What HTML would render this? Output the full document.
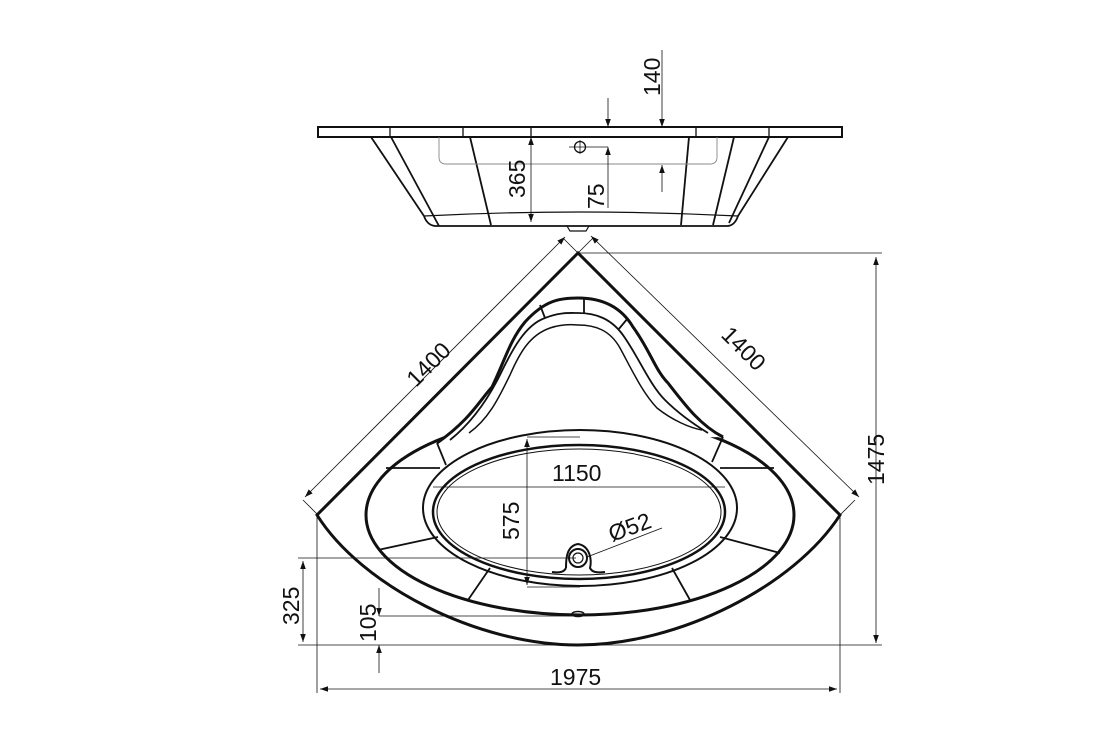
<!DOCTYPE html>
<html><head><meta charset="utf-8"><style>
html,body{margin:0;padding:0;background:#fff;}
svg{display:block}
text{font-family:"Liberation Sans",Arial,sans-serif;font-size:23px;fill:#111}
</style></head><body>
<svg width="1120" height="750" viewBox="0 0 1120 750" xmlns="http://www.w3.org/2000/svg">
<defs>
<marker id="a" viewBox="0 0 10 10" refX="10" refY="5" markerWidth="10" markerHeight="8" orient="auto-start-reverse" markerUnits="userSpaceOnUse"><path d="M0,1.5 L10,5 L0,8.5 Z" fill="#111"/></marker>
</defs>
<g fill="none" stroke="#111">
<rect x="318" y="127" width="524" height="10" stroke-width="2"/>
<g stroke-width="1.3">
<line x1="390" y1="127" x2="390" y2="137"/><line x1="463" y1="127" x2="463" y2="137"/>
<line x1="531" y1="127" x2="531" y2="137"/><line x1="696" y1="127" x2="696" y2="137"/>
<line x1="769" y1="127" x2="769" y2="137"/>
</g>
<g stroke-width="1.8">
<path d="M371,137 L424,216 Q427,225 435,226 L728,226 Q735,225 738,216 L788,137"/>
<line x1="391" y1="137" x2="439" y2="226"/>
<line x1="470" y1="137" x2="491" y2="225"/>
<line x1="689" y1="137" x2="681" y2="225"/>
<line x1="734" y1="137" x2="713" y2="225"/>
<line x1="769" y1="137" x2="729" y2="223"/>
<path d="M424,216 Q580,208 738,216" stroke-width="1.2"/>
<path d="M567,226 L570,231 L586,231 L589,226" stroke-width="1.2"/>
</g>
<path d="M439,137 L439,157 Q439,164 446,164 L710,164 Q717,164 717,157 L717,137" stroke="#888" stroke-width="0.9"/>
<circle cx="580" cy="147" r="5.5" stroke-width="1.3"/>
<g stroke-width="0.8">
<line x1="569" y1="147" x2="608" y2="147"/><line x1="580" y1="140" x2="580" y2="154"/>
<line x1="531" y1="137" x2="531" y2="222" marker-start="url(#a)" marker-end="url(#a)"/>
<line x1="608" y1="208" x2="608" y2="147" marker-end="url(#a)"/>
<line x1="608" y1="98" x2="608" y2="127" marker-end="url(#a)"/>
<line x1="662" y1="50" x2="662" y2="127" marker-end="url(#a)"/>
<line x1="662" y1="192" x2="662" y2="165" marker-end="url(#a)"/>
</g>
<path d="M578,253 L840,515 C795,585 680,645 578,645 C476,645 361,585 317,515 Z" stroke-width="3"/>
<ellipse cx="580" cy="515" rx="214" ry="100" stroke-width="3"/>
<path d="M437,443 C470,420 480,400 492,387 C505,360 510,340 525,322 C545,300 560,298 578,298 C600,298 620,305 633,327 C650,350 655,370 668,383 C685,405 700,425 723,437" stroke-width="3" fill="#fff"/>
<path d="M450,440 C475,420 490,395 500,375 C512,350 525,325 545,318 C560,312 570,313 578,313 C595,313 612,318 625,338 C640,360 650,385 665,400 C680,415 695,425 708,433" stroke-width="1.8"/>
<path d="M469,433 C490,418 500,395 510,375 C520,352 530,335 550,328 C565,323 575,325 578,325 C595,325 610,330 620,348 C632,370 642,392 657,408 C672,420 690,428 702,430" stroke-width="1.5"/>
<ellipse cx="580" cy="508" rx="157" ry="78" stroke-width="2"/>
<ellipse cx="579" cy="512" rx="146" ry="67" stroke-width="2.5"/>
<ellipse cx="579" cy="512" rx="142" ry="63" stroke-width="1"/>
<g stroke-width="1.8">
<line x1="386" y1="468" x2="440" y2="468"/><line x1="720" y1="468" x2="774" y2="468"/>
<line x1="378" y1="550" x2="438" y2="537"/><line x1="720" y1="537" x2="780" y2="553"/>
<line x1="468" y1="600" x2="490" y2="568"/><line x1="690" y1="600" x2="672" y2="568"/>
<line x1="584" y1="313" x2="584" y2="298"/><line x1="545" y1="318" x2="540" y2="305"/><line x1="618" y1="330" x2="628" y2="318"/>
<line x1="437" y1="443" x2="446" y2="465"/><line x1="723" y1="437" x2="712" y2="462"/>
</g>
<path d="M566,568 C566,560 566,546 578,544 C590,546 592,560 590,568 C592,572 596,573 605,572" stroke-width="2"/>
<path d="M566,568 C564,572 560,573 552,572" stroke-width="2"/>
<circle cx="578" cy="558" r="9" stroke-width="2"/>
<circle cx="578" cy="558" r="5" stroke-width="1.2"/>
<ellipse cx="578" cy="614" rx="6" ry="2.5" stroke-width="1.5"/>
<g stroke-width="0.8">
<line x1="579" y1="253" x2="882" y2="253"/>
<line x1="876" y1="257" x2="876" y2="643" marker-start="url(#a)" marker-end="url(#a)"/>
<line x1="578" y1="645" x2="882" y2="645"/>
<line x1="317" y1="515" x2="317" y2="693"/><line x1="840" y1="515" x2="840" y2="693"/>
<line x1="320" y1="689" x2="837" y2="689" marker-start="url(#a)" marker-end="url(#a)"/>
<line x1="298" y1="558" x2="576" y2="558"/>
<line x1="303" y1="561" x2="303" y2="642" marker-start="url(#a)" marker-end="url(#a)"/>
<line x1="298" y1="645" x2="578" y2="645"/>
<line x1="379" y1="588" x2="379" y2="616" marker-end="url(#a)"/>
<line x1="379" y1="616" x2="575" y2="616"/>
<line x1="379" y1="673" x2="379" y2="645" marker-end="url(#a)"/>
<line x1="433" y1="487" x2="725" y2="487"/>
<line x1="527" y1="439" x2="527" y2="585" marker-start="url(#a)" marker-end="url(#a)"/>
<line x1="527" y1="437" x2="580" y2="437"/><line x1="527" y1="587" x2="580" y2="587"/>
<line x1="587" y1="557" x2="662" y2="528"/>
<line x1="318" y1="515" x2="303" y2="500"/><line x1="578" y1="253" x2="563" y2="238"/>
<line x1="305" y1="497" x2="565" y2="237" marker-start="url(#a)" marker-end="url(#a)"/>
<line x1="578" y1="253" x2="593" y2="238"/><line x1="840" y1="515" x2="855" y2="500"/>
<line x1="591" y1="236" x2="859" y2="497" marker-start="url(#a)" marker-end="url(#a)"/>
</g>
</g>
<text transform="translate(660,96) rotate(-90)">140</text>
<text transform="translate(525,198) rotate(-90)">365</text>
<text transform="translate(604,209) rotate(-90)">75</text>
<text transform="translate(416,388) rotate(-45)">1400</text>
<text transform="translate(720,336) rotate(45)">1400</text>
<text transform="translate(884,485) rotate(-90)">1475</text>
<text x="552" y="481">1150</text>
<text transform="translate(519,540) rotate(-90)">575</text>
<text transform="translate(612,542) rotate(-20)">Ø52</text>
<text transform="translate(299,625) rotate(-90)">325</text>
<text transform="translate(376,642) rotate(-90)">105</text>
<text x="550" y="685">1975</text>
</svg>
</body></html>
